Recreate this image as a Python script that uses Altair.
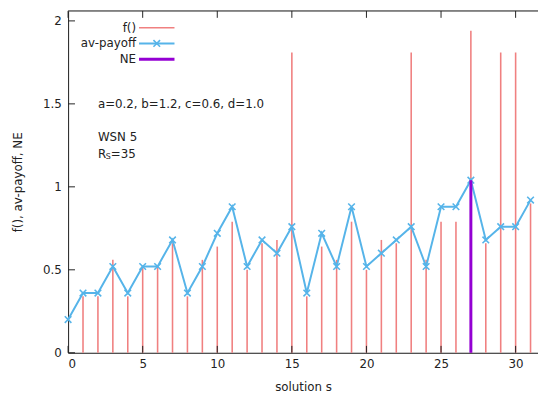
import altair as alt
import pandas as pd

s_vals = list(range(32))
f_vals = [0.0, 0.34, 0.34, 0.56, 0.34, 0.52, 0.52, 0.66, 0.34, 0.56, 0.64, 0.79,
          0.50, 0.66, 0.68, 1.81, 0.34, 0.64, 0.56, 0.79, 0.50, 0.68, 0.66, 1.81,
          0.56, 0.79, 0.79, 1.94, 0.66, 1.81, 1.81, 0.90]
av_vals = [0.20, 0.36, 0.36, 0.52, 0.36, 0.52, 0.52, 0.68, 0.36, 0.52, 0.72, 0.88,
           0.52, 0.68, 0.60, 0.76, 0.36, 0.72, 0.52, 0.88, 0.52, 0.60, 0.68, 0.76,
           0.52, 0.88, 0.88, 1.04, 0.68, 0.76, 0.76, 0.92]
ne_s = [27]
ne_vals = [1.04]

x_ticks = [0, 5, 10, 15, 20, 25, 30]
y_ticks = [0, 0.5, 1, 1.5, 2]

ann_x = [2, 2]
ann_y = [1.5, 1.3]
ann_text = ["a=0.2, b=1.2, c=0.6, d=1.0", "WSN 5"]

legend_labels = ["f()", "av-payoff", "NE"]

RED = "#f08080"
BLUE = "#56b4e9"
PURPLE = "#9400d3"
FONT = "DejaVu Sans"
TXT = "#222"
W, H = 477, 347

df = pd.DataFrame({"s": s_vals, "f": f_vals, "av": av_vals})
ne_df = pd.DataFrame({"s": ne_s, "v": ne_vals})
ann_df = pd.DataFrame({"x": ann_x, "y": ann_y, "t": ann_text})
rs_df = pd.DataFrame({"x": [2], "y": [1.2]})
xt_df = pd.DataFrame({"v": x_ticks})
yt_df = pd.DataFrame({"v": y_ticks})
one_df = pd.DataFrame({"k": [0]})

xs = alt.Scale(domain=[0, 31.5], nice=False, zero=False)
ys = alt.Scale(domain=[0, 2.06], nice=False)

xaxis = alt.Axis(values=x_ticks, grid=False, ticks=False, labelPadding=6,
                 labelFontSize=12, labelFont=FONT, labelColor=TXT, format="~g",
                 title="solution s", titleFont=FONT, titleFontSize=12,
                 titleFontWeight="normal", titleColor=TXT, titlePadding=12,
                 domainColor=TXT, domainWidth=1)
yaxis = alt.Axis(values=y_ticks, grid=False, ticks=False, labelPadding=7,
                 labelFontSize=12, labelFont=FONT, labelColor=TXT, format="~g",
                 title="f(), av-payoff, NE", titleFont=FONT, titleFontSize=12,
                 titleFontWeight="normal", titleColor=TXT, titlePadding=18,
                 domainColor=TXT, domainWidth=1)

base = alt.Chart(df)

impulses = base.mark_rule(color=RED, strokeWidth=1.6).encode(
    x=alt.X("s:Q", scale=xs, axis=xaxis),
    y=alt.Y("f:Q", scale=ys, axis=yaxis),
    y2=alt.datum(0),
)

line = base.mark_line(color=BLUE, strokeWidth=2).encode(
    x=alt.X("s:Q", scale=xs), y=alt.Y("av:Q", scale=ys))

xshape = "M-1,-1L1,1M-1,1L1,-1"
pts = base.mark_point(shape=xshape, color=BLUE, filled=False, size=45,
                      strokeWidth=1.6, opacity=1).encode(
    x=alt.X("s:Q", scale=xs), y=alt.Y("av:Q", scale=ys))

ne = alt.Chart(ne_df).mark_rule(color=PURPLE, strokeWidth=3).encode(
    x=alt.X("s:Q", scale=xs), y=alt.Y("v:Q", scale=ys), y2=alt.datum(0))

# inward ticks (bottom, top mirror, left)
xt_bottom = alt.Chart(xt_df).mark_rule(color=TXT, strokeWidth=1).encode(
    x=alt.X("v:Q", scale=xs), y=alt.value(H), y2=alt.value(H - 7))
xt_top = alt.Chart(xt_df).mark_rule(color=TXT, strokeWidth=1).encode(
    x=alt.X("v:Q", scale=xs), y=alt.value(0), y2=alt.value(7))
yt_left = alt.Chart(yt_df).mark_rule(color=TXT, strokeWidth=1).encode(
    y=alt.Y("v:Q", scale=ys), x=alt.value(0), x2=alt.value(7))
top_border = alt.Chart(one_df).mark_rule(color=TXT, strokeWidth=1).encode(
    x=alt.value(0), x2=alt.value(W), y=alt.value(0))

ann = alt.Chart(ann_df).mark_text(align="left", baseline="middle", font=FONT,
                                  fontSize=12, color=TXT).encode(
    x=alt.X("x:Q", scale=xs), y=alt.Y("y:Q", scale=ys), text="t:N")
rs_R = alt.Chart(rs_df).mark_text(align="left", baseline="middle", font=FONT,
                                  fontSize=12, color=TXT, text="R").encode(
    x=alt.X("x:Q", scale=xs), y=alt.Y("y:Q", scale=ys))
rs_S = alt.Chart(rs_df).mark_text(align="left", baseline="middle", font=FONT,
                                  fontSize=8, color=TXT, text="S", dx=8, dy=3).encode(
    x=alt.X("x:Q", scale=xs), y=alt.Y("y:Q", scale=ys))
rs_eq = alt.Chart(rs_df).mark_text(align="left", baseline="middle", font=FONT,
                                   fontSize=12, color=TXT, text="=35", dx=13).encode(
    x=alt.X("x:Q", scale=xs), y=alt.Y("y:Q", scale=ys))

# manual gnuplot-style legend (labels right-aligned, sample to the right)
LX, LY0, LDY = 69, 17, 16
leg_layers = []
for i, lab in enumerate(legend_labels):
    leg_layers.append(alt.Chart(one_df).mark_text(
        align="right", baseline="middle", font=FONT, fontSize=12, color=TXT,
        text=lab).encode(x=alt.value(LX), y=alt.value(LY0 + i * LDY)))
leg_f = alt.Chart(one_df).mark_rule(color=RED, strokeWidth=1.6).encode(
    x=alt.value(LX + 3), x2=alt.value(LX + 39), y=alt.value(LY0))
leg_av = alt.Chart(one_df).mark_rule(color=BLUE, strokeWidth=2).encode(
    x=alt.value(LX + 3), x2=alt.value(LX + 39), y=alt.value(LY0 + LDY))
leg_av_pt = alt.Chart(one_df).mark_point(shape=xshape, color=BLUE, filled=False, size=45,
                                         strokeWidth=1.6, opacity=1).encode(
    x=alt.value(LX + 21), y=alt.value(LY0 + LDY))
leg_ne = alt.Chart(one_df).mark_rule(color=PURPLE, strokeWidth=3).encode(
    x=alt.value(LX + 3), x2=alt.value(LX + 39), y=alt.value(LY0 + 2 * LDY))

chart = alt.layer(
    impulses, line, pts, ne, xt_bottom, xt_top, yt_left, top_border,
    ann, rs_R, rs_S, rs_eq, *leg_layers, leg_f, leg_av, leg_av_pt, leg_ne
).properties(
    width=W, height=H,
    autosize=alt.AutoSizeParams(type="none"),
    padding={"left": 61, "top": 0, "right": 0, "bottom": 48},
).configure_view(stroke=None).configure(background="white")

chart.save("out.html", embed_options={"renderer": "svg", "actions": False})
